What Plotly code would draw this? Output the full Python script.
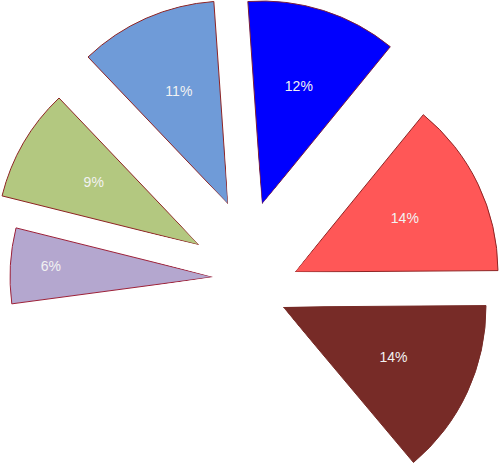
import math
import plotly.graph_objects as go

# slice data (clockwise from just left of 12 o'clock)
labels = ["A", "B", "C", "D", "E", "F", "G"]
shares = [12, 14, 14, 34, 6, 9, 11]
colors = ["#0000FF", "#FF5757", "#772B27", "#FFFFFF", "#B4A7CF", "#B3C880", "#6F9BD8"]
pct_text = [f"{v}%" for v in shares]

# layout / style
W, H = 500, 466
RADIUS = 203          # px, wedge length
START = -4            # deg, where the first slice begins
PAD = 1.0             # deg of sector padding so outlines are not clipped
RMAX = 1.005
# tip of each exploded wedge (px from top-left of the figure)
pivots = [(262, 204), (295, 272), (283, 307), (232, 262), (213, 277), (199, 245), (228, 204)]
label_r = [0.6, 0.6, 0.6, 0.6, 0.8, 0.6, 0.6]
edge_colors = ["#7A1E3A", "#8E2424", "#772B27", "#FFFFFF", "#9C2038", "#8E2424", "#8E2424"]


def sector_bbox(a0, a1):
    """bbox of a wedge (compass degrees) in unit coords, y pointing up"""
    pts = [(0.0, 0.0)]
    angs = [a0, a1] + [k * 90 for k in range(int(a0 // 90) - 1, int(a1 // 90) + 2)
                       if a0 < k * 90 < a1]
    for a in angs:
        pts.append((math.sin(math.radians(a)), math.cos(math.radians(a))))
    xs, ys = zip(*pts)
    return min(xs), max(xs), min(ys), max(ys)


bounds = []
acc = START
for v in shares:
    bounds.append((acc, acc + v * 3.6))
    acc += v * 3.6

fig = go.Figure()
polars = {}
# biggest slices first so the small ones sit on top
order = sorted(range(len(shares)), key=lambda i: -shares[i])
for k, i in enumerate(order, start=1):
    name = "polar" if k == 1 else f"polar{k}"
    a0, a1 = bounds[i]
    mid = (a0 + a1) / 2
    px, py = pivots[i]
    s0, s1 = a0 - PAD, a1 + PAD
    x0, x1, y0, y1 = sector_bbox(s0, s1)
    rr = RADIUS * RMAX
    dom_x = [max(0.0, (px + rr * x0) / W), min(1.0, (px + rr * x1) / W)]
    dom_y = [max(0.0, 1 - (py - rr * y0) / H), min(1.0, 1 - (py - rr * y1) / H)]

    fig.add_trace(go.Barpolar(
        r=[1], theta=[mid], width=[a1 - a0], subplot=name, name=labels[i],
        marker=dict(color=colors[i], line=dict(color=edge_colors[i], width=1)),
        hovertemplate=f"{labels[i]}: {pct_text[i]}<extra></extra>"))
    fig.add_trace(go.Scatterpolar(
        r=[label_r[i]], theta=[mid], mode="text", text=[pct_text[i]], subplot=name,
        textfont=dict(family="Liberation Sans, Arial, sans-serif", size=14,
                      color="#FFFFFF" if colors[i] == "#FFFFFF" else "#F2F2F2"),
        cliponaxis=False, hoverinfo="skip"))

    polars[name] = dict(
        domain=dict(x=dom_x, y=dom_y),
        sector=[90 - s1, 90 - s0],
        bgcolor="rgba(0,0,0,0)",
        hole=0,
        radialaxis=dict(visible=False, range=[0, RMAX], showgrid=False),
        angularaxis=dict(visible=False, rotation=90, direction="clockwise",
                         showgrid=False, showline=False),
    )

fig.update_layout(
    **polars,
    width=W, height=H,
    margin=dict(l=0, r=0, t=0, b=0),
    paper_bgcolor="white",
    plot_bgcolor="white",
    showlegend=False,
)

# the page's default body margin would push the figure 8px off the window
fig.write_html("out.html", config={"displayModeBar": False},
               post_script="document.body.style.margin = '0';")
